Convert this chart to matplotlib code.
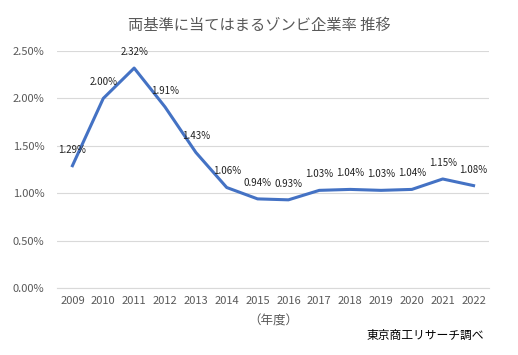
import matplotlib
matplotlib.use("Agg")
import matplotlib.pyplot as plt
from matplotlib.ticker import FuncFormatter

plt.rcParams['font.family'] = ['Noto Sans CJK JP', 'DejaVu Sans']

years = ['2009', '2010', '2011', '2012', '2013', '2014', '2015', '2016',
         '2017', '2018', '2019', '2020', '2021', '2022']
rates = [1.29, 2.00, 2.32, 1.91, 1.43, 1.06, 0.94, 0.93,
         1.03, 1.04, 1.03, 1.04, 1.15, 1.08]
yticks = [0.0, 0.5, 1.0, 1.5, 2.0, 2.5]

title = '両基準に当てはまるゾンビ企業率 推移'
xlabel = '（年度）'
source = '東京商工リサーチ調べ'

fig = plt.figure(figsize=(5.18, 3.55), dpi=100)
ax = fig.add_axes([57 / 518, 1 - 288 / 355, 432 / 518, 237 / 355])

x = range(len(years))
ax.plot(x, rates, color='#4472C4', linewidth=2.2, solid_joinstyle='round')

for i, v in enumerate(rates):
    ax.annotate(f'{v:.2f}%', (i, v), xytext=(0, 8), textcoords='offset points',
                ha='center', va='bottom', fontsize=7, color='#222222')

ax.set_xlim(-0.5, len(years) - 0.5)
ax.set_ylim(0, 2.5)
ax.set_yticks(yticks)
ax.yaxis.set_major_formatter(FuncFormatter(lambda v, p: f'{v:.2f}%'))
ax.set_xticks(list(x))
ax.set_xticklabels(years)
ax.grid(axis='y', color='#D9D9D9', linewidth=0.8)
ax.set_axisbelow(True)
for s in ['top', 'right', 'left']:
    ax.spines[s].set_visible(False)
ax.spines['bottom'].set_color('#D9D9D9')
ax.tick_params(length=0, labelsize=8, colors='#595959')
ax.tick_params(axis='x', pad=6)
ax.tick_params(axis='y', pad=9)

ax.set_xlabel(xlabel, fontsize=9, color='#595959', labelpad=6)
fig.text(0.5, 1 - 25 / 355, title, ha='center', va='center', fontsize=11, color='#595959')
fig.text(484 / 518, 1 - 335 / 355, source, ha='right', va='center', fontsize=8.5, color='#000000')

fig.savefig('out.png', dpi=100)
